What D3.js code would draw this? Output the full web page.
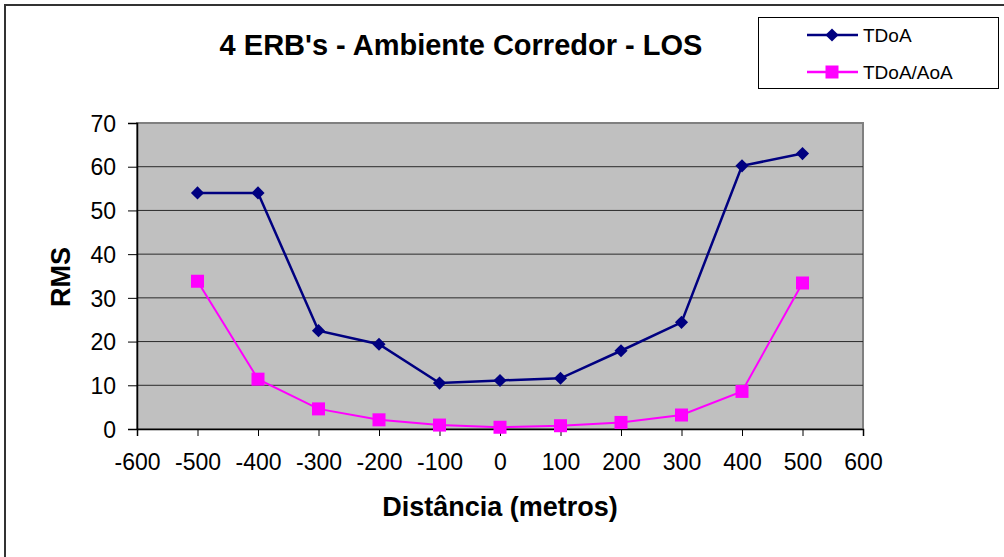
<!DOCTYPE html>
<html>
<head>
<meta charset="utf-8">
<script src="https://cdn.jsdelivr.net/npm/d3@7"></script>
<style>
    body { margin: 0; background: #fff; }
    text { font-family: "Liberation Sans", Arial, sans-serif; }
</style>
</head>
<body>
<div class="graph-goes-here"></div>
<script>
// distances (metros) and RMS values
var distances = [-500, -400, -300, -200, -100, 0, 100, 200, 300, 400, 500];
var tdoaValues = [54.0, 54.0, 22.5, 19.4, 10.5, 11.1, 11.6, 17.9, 24.4, 60.2, 63.0];
var tdoaAoaValues = [33.8, 11.4, 4.6, 2.1, 0.9, 0.4, 0.75, 1.5, 3.2, 8.6, 33.4];
var xTicks = [-600, -500, -400, -300, -200, -100, 0, 100, 200, 300, 400, 500, 600];
var yTicks = [0, 10, 20, 30, 40, 50, 60, 70];
var seriesNames = ["TDoA", "TDoA/AoA"];
var seriesColors = ["#000080", "#FF00FF"];

var width = 1004, height = 557;
var plot = { left: 137, right: 863, top: 123, bottom: 429 };

var svg = d3.select(".graph-goes-here")
    .append("svg")
    .attr("width", width)
    .attr("height", height);

// outer chart border (runs off the right and bottom edge)
svg.append("rect")
    .attr("x", 5).attr("y", 5)
    .attr("width", 1010).attr("height", 570)
    .attr("fill", "none")
    .attr("stroke", "#333")
    .attr("stroke-width", 2);

var xScale = d3.scaleLinear().domain([-600, 600]).range([plot.left, plot.right]);
var yScale = d3.scaleLinear().domain([0, 70]).range([plot.bottom, plot.top]);

// plot background
svg.append("rect")
    .attr("x", plot.left).attr("y", plot.top)
    .attr("width", plot.right - plot.left)
    .attr("height", plot.bottom - plot.top)
    .attr("fill", "#C0C0C0")
    .attr("stroke", "#808080")
    .attr("stroke-width", 2);

// horizontal gridlines
svg.append("g")
    .selectAll("line")
    .data(yTicks.filter(d => d > 0 && d < 70))
    .join("line")
    .attr("x1", plot.left).attr("x2", plot.right)
    .attr("y1", d => yScale(d)).attr("y2", d => yScale(d))
    .attr("stroke", "#2a2a2a")
    .attr("stroke-width", 1);

// axes - plain hyphen for negatives like the original
var yAxis = svg.append("g")
    .attr("transform", "translate(" + plot.left + ",0)")
    .call(d3.axisLeft(yScale).tickValues(yTicks).tickFormat(d => String(d)).tickSize(9).tickPadding(12));

var xAxis = svg.append("g")
    .attr("transform", "translate(0," + plot.bottom + ")")
    .call(d3.axisBottom(xScale).tickValues(xTicks).tickFormat(d => String(d)).tickSize(7).tickPadding(18));

[yAxis, xAxis].forEach(ax => {
    ax.select(".domain").attr("stroke", "#000").attr("stroke-width", 1.5);
    ax.selectAll(".tick line").attr("stroke", "#000").attr("stroke-width", 1);
    ax.selectAll(".tick text")
        .attr("fill", "#000")
        .style("font-size", "23px")
        .style("font-family", "'Liberation Sans', Arial, sans-serif");
});
yAxis.selectAll(".tick text").attr("dy", "0.36em");

// series
var series = [tdoaValues, tdoaAoaValues];
var line = d3.line()
    .x((d, i) => xScale(distances[i]))
    .y(d => yScale(d));

series.forEach((vals, s) => {
    svg.append("path")
        .datum(vals)
        .attr("fill", "none")
        .attr("stroke", seriesColors[s])
        .attr("stroke-width", s == 0 ? 2.5 : 2)
        .attr("d", line);
});

var diamond = d3.symbol().type(d3.symbolDiamond2).size(110);

svg.append("g")
    .selectAll("path")
    .data(tdoaValues)
    .join("path")
    .attr("d", diamond)
    .attr("transform", (d, i) => "translate(" + xScale(distances[i]) + "," + yScale(d) + ")")
    .attr("fill", seriesColors[0]);

svg.append("g")
    .selectAll("rect")
    .data(tdoaAoaValues)
    .join("rect")
    .attr("x", (d, i) => xScale(distances[i]) - 6.5)
    .attr("y", d => yScale(d) - 6.5)
    .attr("width", 13).attr("height", 13)
    .attr("fill", seriesColors[1]);

// title and axis labels
svg.append("text")
    .attr("x", 461).attr("y", 55)
    .attr("text-anchor", "middle")
    .style("font-size", "29px")
    .style("font-weight", "bold")
    .text("4 ERB's - Ambiente Corredor - LOS");

svg.append("text")
    .attr("x", 500).attr("y", 516)
    .attr("text-anchor", "middle")
    .style("font-size", "27px")
    .style("font-weight", "bold")
    .text("Distância (metros)");

svg.append("text")
    .attr("transform", "translate(70,277) rotate(-90)")
    .attr("text-anchor", "middle")
    .style("font-size", "27px")
    .style("font-weight", "bold")
    .text("RMS");

// legend
var legend = svg.append("g");
legend.append("rect")
    .attr("x", 758.5).attr("y", 17.5)
    .attr("width", 240).attr("height", 71)
    .attr("fill", "#fff")
    .attr("stroke", "#000")
    .attr("stroke-width", 1);

seriesNames.forEach((name, i) => {
    var ly = 35 + i * 37;
    legend.append("line")
        .attr("x1", 807).attr("x2", 858)
        .attr("y1", ly).attr("y2", ly)
        .attr("stroke", seriesColors[i])
        .attr("stroke-width", 2.5);
    if (i == 0) {
        legend.append("path")
            .attr("d", diamond)
            .attr("transform", "translate(832," + ly + ")")
            .attr("fill", seriesColors[i]);
    } else {
        legend.append("rect")
            .attr("x", 825.5).attr("y", ly - 6.5)
            .attr("width", 13).attr("height", 13)
            .attr("fill", seriesColors[i]);
    }
    legend.append("text")
        .attr("x", 863).attr("y", ly)
        .attr("dy", "0.36em")
        .style("font-size", "19px")
        .text(name);
});
</script>
</body>
</html>
